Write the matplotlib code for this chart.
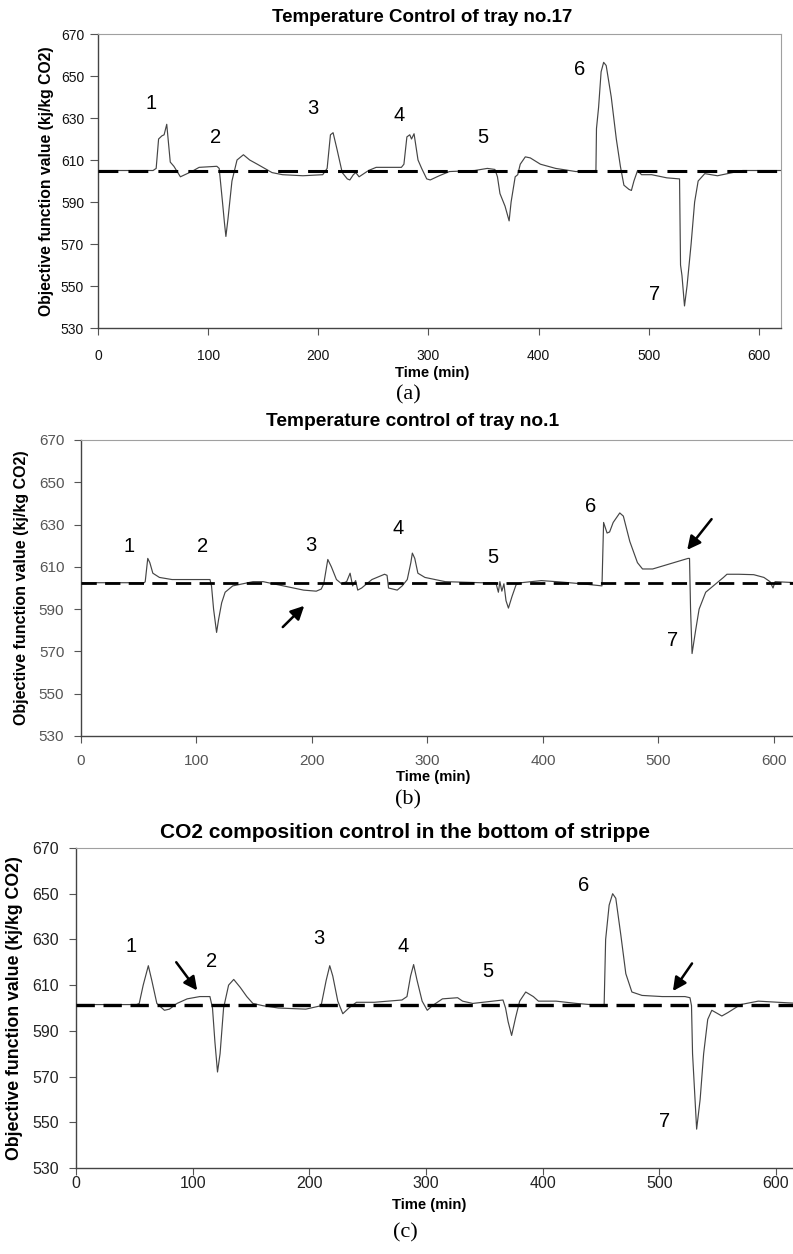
import matplotlib
matplotlib.use('Agg')
import matplotlib.pyplot as plt

plt.rcParams['font.family'] = ['Liberation Sans', 'DejaVu Sans']

# ---- data ----
# (a) Temperature control of tray no.17
t_a = [0, 50, 52.8, 55, 58, 60, 62.4, 65.6, 68.9, 74.8,
       85, 91.8, 107.9, 110, 111.5, 113, 114.8, 116.1, 118, 121.6,
       126.2, 132, 137.7, 144.6, 158, 167.5, 186, 204, 208, 211,
       213.4, 217, 221.7, 226.3, 228.6, 231.8, 234, 237, 245.6, 252.5,
       275.4, 277.7, 280.4, 283, 284.6, 286.9, 290.5, 293.8, 298.4, 301.6,
       309.8, 319, 342, 353.4, 360.3, 362.6, 364.9, 369.5, 373.2, 375,
       378.7, 381, 383.3, 387.9, 392.4, 401.6, 415.4, 433.8, 452, 452.5,
       454.4, 456.7, 459, 461.3, 465.9, 470.5, 474.2, 477.4, 482, 484.2,
       486.5, 489.8, 493.4, 502.6, 516.4, 527.9, 528.8, 530.1, 532.4, 534.7,
       538.4, 541.6, 544.8, 550.8, 562.3, 576, 585.2, 620]
y_a = [605, 605, 606, 620, 621.5, 622, 627, 609, 607, 602,
       604.5, 606.5, 607, 606, 598, 590, 580, 573.6, 582, 600,
       610, 612.5, 610, 608, 604, 603, 602.5, 603, 606, 622,
       623, 615, 604, 601, 600.5, 603, 604, 602, 605, 606.5,
       606.5, 608, 621, 622, 620, 622.5, 610, 606, 601, 600.5,
       602.5, 604.5, 605, 606, 605.5, 602, 594, 588, 581, 590,
       602, 603, 608, 611.5, 611, 608, 606, 604.5, 605, 625,
       635, 652, 656.5, 655, 640, 620, 607, 598, 596, 595.5,
       600, 605, 603, 603, 601.5, 601, 560, 555, 540.5, 550,
       570, 590, 600, 603.5, 602.5, 604, 605, 605]

# (b) Temperature control of tray no.1
t_b = [0, 30, 54.8, 55.6, 57.8, 59.6, 62.2, 67.9, 78.8, 105,
       111.7, 113, 114.8, 117.4, 119.1, 121.8, 124.8, 131.4, 140.2, 148.9,
       157.7, 175.2, 192.7, 203.7, 208, 210.2, 213.7, 216.8, 221.2, 225.6,
       230, 233, 235.2, 237.8, 239.6, 243, 251.9, 262.8, 265, 266.3,
       273.8, 278.1, 282.5, 285.6, 286.9, 289, 291.7, 297.8, 315.4, 346,
       359.2, 361.4, 362.7, 364.4, 366.2, 368, 370.1, 373.2, 376.7, 381.1,
       398.6, 411.7, 433.6, 451.1, 452.5, 455.5, 457.7, 460.8, 466.5, 469.6,
       475.2, 481.8, 486.2, 495, 525.6, 526.9, 527.8, 529.1, 532.2, 535.2,
       540.9, 547.5, 556.3, 559.3, 569.4, 582.5, 591.3, 596.6, 599.2, 601,
       620]
y_b = [602.5, 602.5, 602.5, 603, 614, 612, 607, 605, 604, 604,
       604, 601, 590, 579, 585, 593, 598, 601, 602, 603,
       603, 601, 599, 598.5, 599.5, 602, 613.5, 610, 604, 602,
       603, 607, 601, 603.5, 599, 600, 604, 606.5, 606, 600,
       599, 601, 604, 612, 616.5, 614, 607, 605, 603, 602.5,
       602.5, 598, 603, 598.5, 602, 594, 590.5, 596, 601.5, 602.5,
       603.5, 603, 602, 601, 631, 626, 626.5, 631, 635.5, 634,
       622, 612, 609, 609, 614, 614, 590, 569, 580, 590,
       598, 601, 605, 606.5, 606.5, 606.3, 605, 603, 600, 603,
       602.5]

# (c) CO2 composition control in the bottom of stripper
t_c = [0, 52, 54.2, 57.6, 62, 65, 69.3, 75.8, 80.1, 86.6,
       95.3, 106.1, 114.8, 117, 119.1, 121.3, 123.5, 126.5, 130.8, 135.2,
       140.8, 146.4, 151.6, 160.3, 173.3, 197, 210.1, 214.4, 217.5, 220.1,
       224.4, 228.7, 233.9, 240.4, 255.6, 279.4, 283.7, 286.8, 289.4, 292.4,
       296.7, 301.1, 305.4, 314.1, 327.1, 331.4, 340.1, 366, 368.2, 370.4,
       373.4, 376.9, 380.3, 385.5, 392, 396.4, 411.5, 428.9, 452.7, 454,
       457, 460, 462.7, 467, 471.3, 476.5, 485.2, 502.5, 522, 526.3,
       527.6, 528.5, 532, 535, 538, 541.5, 545, 550.2, 553.6, 558.8,
       569.7, 584.8, 602, 620]
y_c = [601.5, 601.5, 602, 610, 618.5, 612, 602, 599, 599.5, 602,
       604, 605, 605, 600, 585, 572, 580, 600, 610, 612.5,
       609, 605, 602, 601, 600, 599.5, 601, 612, 618.5, 614,
       603, 597.5, 600, 602.5, 602.5, 603.5, 605, 614, 619, 612,
       603, 599, 601, 604, 604.5, 603, 602, 603.5, 600, 594,
       588, 596, 603, 607, 605, 603, 603, 602, 601, 630,
       645, 650, 648, 632, 615, 607, 605.5, 605, 605, 604.5,
       601, 580, 547, 560, 580, 595, 599, 597.5, 596.5, 598,
       601.5, 603, 602.5, 602]

setpoints = [605, 602.3, 601.5]
titles = ['Temperature Control of tray no.17',
          'Temperature control of tray no.1',
          'CO2 composition control in the bottom of strippe']
panel_tags = ['(a)', '(b)', '(c)']
y_ticks = list(range(530, 671, 20))
x_ticks = list(range(0, 601, 100))

# event numbers (x, y) per panel
num_a = [(48, 637), (106.5, 620.5), (195, 634.5), (273, 631), (349, 620.5), (437.5, 653), (505, 546)]
num_b = [(41.6, 619.4), (105, 619.4), (199.3, 620.2), (274.6, 628), (357, 614.6), (441.5, 638.4), (512.5, 575.1)]
num_c = [(46.8, 627), (116, 620.2), (208, 630.4), (280.3, 627), (353, 615.8), (435.4, 653.7), (504.7, 550.4)]

# arrows: (tail_x, tail_y, head_x, head_y)
arrows_b = [(173, 580.6, 195, 592.5), (547.5, 633.6, 523.4, 617)]
arrows_c = [(84.5, 621, 105.3, 606.7), (529.4, 620.5, 510.3, 606.4)]

W, H = 793, 1254


def box(left, right, top, bottom):
    return [left / W, 1 - bottom / H, (right - left) / W, (bottom - top) / H]


fig = plt.figure(figsize=(W / 100, H / 100), dpi=100)

panels = [
    dict(t=t_a, y=y_a, nums=num_a, arrows=[], rect=box(98, 781, 34, 328), xmax=620,
         tick_fs=10, tick_col='#111111', ylen=6, ypad=4, xpad=10,
         ylab_fs=11.3, ylab_x=47, title_fs=13.5, title_xy=(422, 17),
         xlab_xy=(432, 373), tag_xy=(408, 395), dash=(6.5, 3.3), dlw=2.2, right=True),
    dict(t=t_b, y=y_b, nums=num_b, arrows=arrows_b, rect=box(81, 793, 440, 736), xmax=616.5,
         tick_fs=11, tick_col='#555555', ylen=5, ypad=7, xpad=8,
         ylab_fs=11.5, ylab_x=22, title_fs=13.8, title_xy=(413, 422),
         xlab_xy=(433, 777), tag_xy=(408, 800), dash=(5.5, 3.0), dlw=2.0, right=False),
    dict(t=t_c, y=y_c, nums=num_c, arrows=arrows_c, rect=box(76, 793, 848, 1168), xmax=614.6,
         tick_fs=11.5, tick_col='#222222', ylen=5, ypad=7, xpad=1,
         ylab_fs=12.8, ylab_x=15, title_fs=15, title_xy=(405, 832),
         xlab_xy=(429, 1205), tag_xy=(405, 1233), dash=(5.5, 2.6), dlw=2.4, right=False),
]

for i, p in enumerate(panels):
    ax = fig.add_axes(p['rect'])
    ax.plot(p['t'], p['y'], color='#454545', lw=0.85, zorder=2)
    ax.axhline(setpoints[i], color='black', lw=p['dlw'], dashes=p['dash'], zorder=3)
    ax.set_xlim(0, p['xmax'])
    ax.set_ylim(530, 670)
    ax.set_yticks(y_ticks)
    ax.set_xticks(x_ticks)
    ax.tick_params(axis='both', direction='out', width=0.8,
                   labelsize=p['tick_fs'], labelcolor=p['tick_col'], color='#555555')
    ax.tick_params(axis='x', length=5, pad=p['xpad'])
    ax.tick_params(axis='y', length=p['ylen'], pad=p['ypad'])
    for s in ['left', 'bottom']:
        ax.spines[s].set_color('#444444')
        ax.spines[s].set_linewidth(1.0)
    ax.spines['top'].set_color('#a0a0a0')
    ax.spines['right'].set_color('#a0a0a0')
    ax.spines['right'].set_visible(p['right'])

    for k, (x, y) in enumerate(p['nums']):
        ax.text(x, y, str(k + 1), fontsize=14.5, ha='center', va='center', color='black')
    for (x0, y0, x1, y1) in p['arrows']:
        ax.annotate('', xy=(x1, y1), xytext=(x0, y0),
                    arrowprops=dict(arrowstyle='-|>', color='black', lw=1.8, mutation_scale=20))

    tx, ty = p['title_xy']
    fig.text(tx / W, 1 - ty / H, titles[i], fontsize=p['title_fs'], fontweight='bold',
             ha='center', va='center')
    xx, xy = p['xlab_xy']
    fig.text(xx / W, 1 - xy / H, 'Time (min)', fontsize=10.7, fontweight='bold',
             ha='center', va='center')
    gx, gy = p['tag_xy']
    fig.text(gx / W, 1 - gy / H, panel_tags[i], fontsize=16, family='Liberation Serif',
             ha='center', va='center')
    r = p['rect']
    fig.text(p['ylab_x'] / W, r[1] + r[3] / 2, 'Objective function value (kj/kg CO2)',
             fontsize=p['ylab_fs'], fontweight='bold', rotation=90, ha='center', va='center')

fig.savefig('out.png', dpi=100)
